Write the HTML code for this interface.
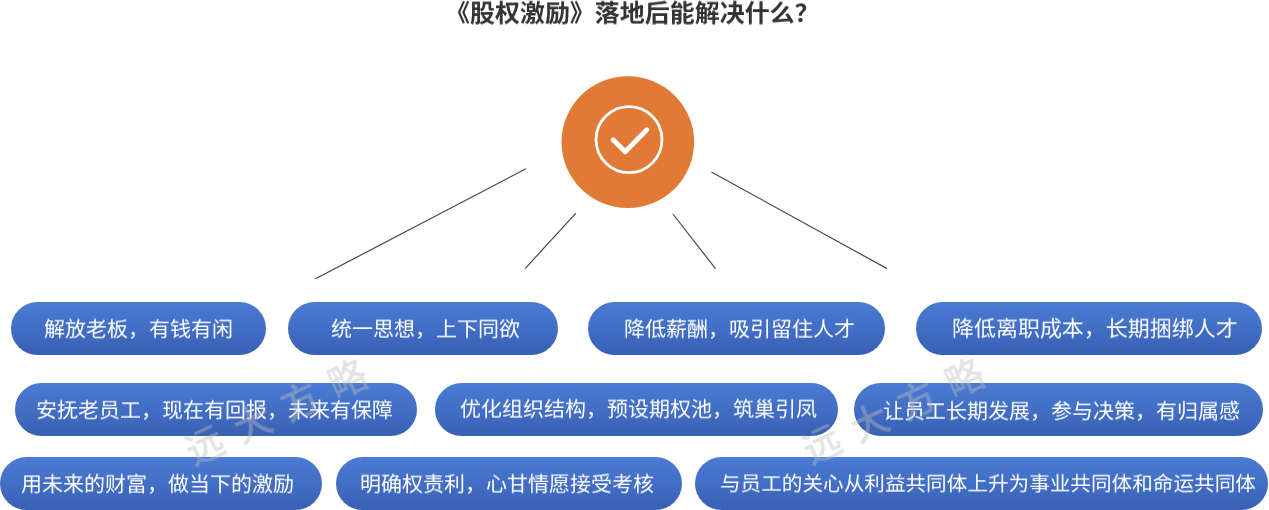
<!DOCTYPE html>
<html lang="zh-CN"><head><meta charset="utf-8"><title>股权激励</title>
<style>
html,body{margin:0;padding:0;background:#fff;}
body{width:1269px;height:510px;position:relative;overflow:hidden;font-family:"Liberation Sans","Noto Sans CJK SC",sans-serif;}
.title{position:absolute;left:445.1px;top:-5.3px;will-change:transform;transform:scaleY(0.965);transform-origin:50% 50%;font-size:24.98px;font-weight:700;color:#333;white-space:nowrap;line-height:36px;}
.pill{position:absolute;border-radius:27px;background:linear-gradient(180deg,#4b7bd3 0%,#426ec5 50%,#3860b4 100%);color:#fff;white-space:nowrap;box-sizing:border-box;overflow:hidden;}
.pill span{position:absolute;top:0;display:block;will-change:transform;transform:scaleY(0.955);transform-origin:50% 50%;}
.wm{position:absolute;font-weight:500;font-size:38px;letter-spacing:14.4px;color:#bcbcbc;opacity:.42;white-space:nowrap;transform-origin:0 50%;transform:rotate(-25deg);line-height:40px;pointer-events:none;}
svg{position:absolute;left:0;top:0;}
</style></head><body>
<div class="title">《股权激励》落地后能解决什么？</div>
<svg width="1269" height="510" viewBox="0 0 1269 510">
<clipPath id="c1"><rect x="300" y="150" width="300" height="128.8"/></clipPath>
<g stroke="#484848" stroke-width="1.2" fill="none">
<line x1="313.1" y1="280" x2="525.9" y2="168.8" clip-path="url(#c1)"/>
<line x1="525.1" y1="268.6" x2="575.9" y2="213.1"/>
<line x1="672.9" y1="214" x2="715.5" y2="268.6"/>
<line x1="711.4" y1="172" x2="887" y2="268.6"/>
</g>
<ellipse cx="627.8" cy="142.1" rx="66.3" ry="65.9" fill="#e07a36"/>
<circle cx="629" cy="139.6" r="33" fill="none" stroke="#fff" stroke-width="2.8"/>
<polyline points="613.1,139.7 625.2,151.8 646.8,129.8" fill="none" stroke="#fff" stroke-width="4.8" stroke-linecap="round" stroke-linejoin="round"/>
</svg>
<div class="pill" style="left:11.0px;top:302.0px;width:255.4px;height:53.3px;font-size:21.0px;line-height:53.3px;"><span style="left:33.2px;top:0.2px;">解放老板，有钱有闲</span></div>
<div class="pill" style="left:287.7px;top:302.0px;width:270.3px;height:53.3px;font-size:21.0px;line-height:53.3px;"><span style="left:43.5px;top:0.2px;">统一思想，上下同欲</span></div>
<div class="pill" style="left:587.7px;top:302.0px;width:297.0px;height:53.3px;font-size:21.0px;line-height:53.3px;"><span style="left:36.1px;top:0.2px;">降低薪酬，吸引留住人才</span></div>
<div class="pill" style="left:916.3px;top:302.0px;width:346.1px;height:53.3px;font-size:21.97px;line-height:53.3px;"><span style="left:35.4px;top:0.2px;">降低离职成本，长期捆绑人才</span></div>
<div class="pill" style="left:14.6px;top:382.8px;width:402.6px;height:53.5px;font-size:21.0px;line-height:53.5px;"><span style="left:21.0px;top:0.1px;">安抚老员工，现在有回报，未来有保障</span></div>
<div class="pill" style="left:434.6px;top:382.8px;width:403.2px;height:53.5px;font-size:21.0px;line-height:53.5px;"><span style="left:25.5px;top:-1.0px;">优化组织结构，预设期权池，筑巢引凤</span></div>
<div class="pill" style="left:854.0px;top:382.8px;width:409.3px;height:53.5px;font-size:21.0px;line-height:53.5px;"><span style="left:28.7px;top:1.3px;">让员工长期发展，参与决策，有归属感</span></div>
<div class="pill" style="left:-0.5px;top:456.7px;width:322.3px;height:53.6px;font-size:21.0px;line-height:53.6px;"><span style="left:21.6px;top:0.0px;">用未来的财富，做当下的激励</span></div>
<div class="pill" style="left:335.6px;top:456.7px;width:346.7px;height:53.6px;font-size:21.0px;line-height:53.6px;"><span style="left:24.5px;top:0.0px;">明确权责利，心甘情愿接受考核</span></div>
<div class="pill" style="left:695.3px;top:456.7px;width:573.1px;height:53.6px;font-size:20.615px;line-height:53.6px;"><span style="left:24.7px;top:0.0px;">与员工的关心从利益共同体上升为事业共同体和命运共同体</span></div>
<div class="wm" style="left:187.5px;top:433.5px;">远大方略</div>
<div class="wm" style="left:804.5px;top:433px;">远大方略</div>
</body></html>
